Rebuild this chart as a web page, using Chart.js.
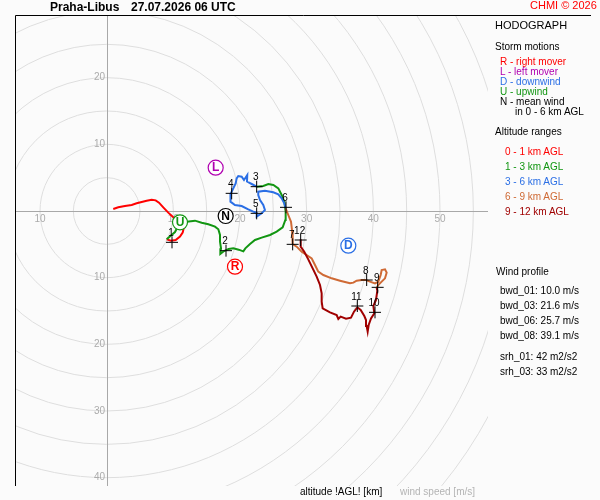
<!DOCTYPE html>
<html lang="en">
<head>
  <meta charset="UTF-8">
  <title>Hodograph Praha-Libus</title>
  <script src="https://cdn.jsdelivr.net/npm/chart.js"></script>
  <style>
    body { margin: 0; background: #fbfbfb; }
    .wrap { position: relative; width: 600px; height: 500px; font-family: "Liberation Sans", Arial, sans-serif; }
    canvas { position: absolute; left: 0; top: 0; }
    .t { position: absolute; white-space: nowrap; font-size: 10px; line-height: 12px; color: #000; }
  </style>
</head>
<body>
  <div class="wrap">
    <canvas id="hodo" width="600" height="500"></canvas>

    <!-- header -->
    <div class="t" style="left:50px; top:0px; font-size:12px; line-height:14px; font-weight:bold;">Praha-Libus</div>
    <div class="t" style="left:131px; top:0px; font-size:12px; line-height:14px; font-weight:bold;">27.07.2026 06 UTC</div>
    <div class="t" style="left:530px; top:-1px; font-size:11px; line-height:13px; color:#ff0000;">CHMI © 2026</div>

    <!-- right panel -->
    <div class="t" style="left:495px; top:19px; font-size:11px; line-height:13px;">HODOGRAPH</div>
    <div class="t" style="left:495px; top:41px;">Storm motions</div>
    <div class="t" style="left:500px; top:56px; color:#ff0000;">R - right mover</div>
    <div class="t" style="left:500px; top:66px; color:#b000b0;">L - left mover</div>
    <div class="t" style="left:500px; top:76px; color:#2b6fe5;">D - downwind</div>
    <div class="t" style="left:500px; top:86px; color:#129612;">U - upwind</div>
    <div class="t" style="left:500px; top:96px;">N - mean wind</div>
    <div class="t" style="left:515px; top:106px;">in 0 - 6 km AGL</div>

    <div class="t" style="left:495px; top:126px;">Altitude ranges</div>
    <div class="t" style="left:505px; top:146px; color:#ff0000;">0 - 1 km AGL</div>
    <div class="t" style="left:505px; top:161px; color:#129612;">1 - 3 km AGL</div>
    <div class="t" style="left:505px; top:176px; color:#2b6fe5;">3 - 6 km AGL</div>
    <div class="t" style="left:505px; top:191px; color:#cf6a35;">6 - 9 km AGL</div>
    <div class="t" style="left:505px; top:206px; color:#a00000;">9 - 12 km AGL</div>

    <div class="t" style="left:496px; top:266px;">Wind profile</div>
    <div class="t" style="left:500px; top:285px;">bwd_01: 10.0 m/s</div>
    <div class="t" style="left:500px; top:300px;">bwd_03: 21.6 m/s</div>
    <div class="t" style="left:500px; top:315px;">bwd_06: 25.7 m/s</div>
    <div class="t" style="left:500px; top:330px;">bwd_08: 39.1 m/s</div>
    <div class="t" style="left:500px; top:351px;">srh_01: 42 m2/s2</div>
    <div class="t" style="left:500px; top:366px;">srh_03: 33 m2/s2</div>

    <!-- bottom captions -->
    <div class="t" style="left:300px; top:486px;">altitude !AGL! [km]</div>
    <div class="t" style="left:400px; top:486px; color:#b4b4b4;">wind speed [m/s]</div>
  </div>

  <script>
    // wind speed rings and axis tick values [m/s]
    const ringSpeeds = [5, 10, 15, 20, 25, 30, 35, 40, 45, 50, 55, 60, 65];
    const xTicks = [-10, 10, 20, 30, 40, 50];
    const yTicks = [20, 10, -10, -20, -30, -40];

    // hodograph traces [u, v] in m/s, one array per altitude range
    const trace0to1 = [[0.99,0.30],[1.74,0.55],[2.74,0.75],[3.75,0.90],[4.50,1.15],[5.25,1.35],[6.00,1.55],[6.75,1.70],[7.35,1.60],[7.85,1.25],[8.49,0.55],[9.24,-0.25],[9.99,-0.95],[11.0,-1.70],[11.55,-2.60],[11.40,-3.25],[11.0,-3.85],[10.35,-4.35],[9.65,-4.45],[9.0,-4.25]];
    const trace1to3 = [[9.0,-4.25],[10.25,-3.15],[11.0,-1.70],[12.0,-1.60],[13.25,-1.45],[14.25,-1.75],[15.25,-2.0],[16.25,-2.35],[16.75,-2.75],[17.0,-3.60],[17.0,-4.60],[17.15,-5.60],[17.05,-6.45],[17.6,-6.0],[18.3,-5.70],[19.0,-5.60],[19.8,-5.80],[20.5,-6.05],[20.8,-5.60],[21.5,-4.95],[22.25,-4.35],[23.25,-4.0],[24.5,-3.60],[25.5,-3.10],[26.4,-2.45],[26.8,-1.35],[26.85,-0.10],[26.65,1.40],[26.25,2.40],[25.75,3.40],[25.0,3.90],[24.25,4.05],[23.5,3.75],[22.5,3.65]];
    const trace3to6 = [[22.5,3.65],[21.75,4.05],[21.05,4.42],[21.09,5.40],[20.6,4.65],[20.25,5.15],[19.74,5.25],[19.5,4.90],[19.35,4.15],[18.99,3.40],[18.64,2.65],[18.5,1.90],[18.64,1.40],[19.24,0.90],[20.25,0.75],[21.24,0.25],[21.99,-0.10],[22.5,-0.25],[22.5,-0.85],[23.25,-0.35],[23.74,0.15],[23.49,0.90],[23.0,1.65],[22.74,2.40],[22.74,2.90],[23.74,3.05],[24.99,2.80],[25.74,2.50],[26.25,1.90],[26.64,1.15],[26.85,0.40]];
    const trace6to9 = [[26.85,0.40],[27.24,-0.60],[27.65,-1.60],[27.8,-2.85],[27.9,-3.90],[27.9,-4.95],[28.5,-5.35],[29.25,-6.10],[30.0,-6.60],[30.75,-7.10],[31.25,-8.10],[31.74,-9.10],[32.5,-9.60],[33.75,-10.10],[35.0,-10.45],[36.5,-10.85],[37.0,-10.75],[37.5,-10.45],[38.25,-10.35],[38.9,-10.35],[39.5,-10.60],[40.25,-10.85],[40.74,-10.60],[41.1,-9.60],[41.25,-8.85],[41.75,-8.75],[42.0,-9.25],[41.75,-10.10],[41.25,-10.60],[40.74,-11.10],[40.5,-11.50]];
    const trace9to12 = [[40.5,-11.50],[40.6,-11.95],[40.4,-13.35],[40.0,-14.25],[40.15,-15.35],[39.65,-16.10],[39.3,-17.10],[39.15,-18.10],[39.0,-17.25],[38.9,-16.35],[38.65,-15.75],[38.1,-14.85],[37.6,-14.45],[37.1,-15.10],[36.65,-16.0],[35.9,-16.15],[35.1,-15.85],[34.75,-16.20],[34.5,-15.60],[33.5,-15.20],[32.4,-14.60],[32.25,-13.60],[32.25,-12.35],[32.0,-11.10],[31.5,-9.85],[30.9,-8.60],[30.24,-7.25],[29.64,-6.10],[29.1,-5.35],[29.1,-4.25]];

    // altitude marks every km
    const heightLabels = ['1','2','3','4','5','6','7','8','9','10','11','12'];
    const heightU = [9.8, 17.9, 22.5, 18.75, 22.5, 26.9, 27.9, 39.0, 40.65, 40.25, 37.6, 29.1];
    const heightV = [-4.7, -5.95, 3.65, 2.65, -0.35, 0.55, -5.0, -10.35, -11.45, -15.2, -14.25, -4.35];

    // storm motions
    const stormLabels = ['R', 'L', 'D', 'U', 'N'];
    const stormU = [19.25, 16.35, 36.25, 11.0, 17.85];
    const stormV = [-8.35, 6.5, -5.2, -1.7, -0.75];

    const layerColors = ['#ff0000', '#129612', '#2b6fe5', '#cf6a35', '#a00000'];
    const stormColors = ['#ff0000', '#b000b0', '#2b6fe5', '#129612', '#000000'];

    function toPoints(pairs) {
      return pairs.map(p => ({ x: p[0], y: p[1] }));
    }

    // rings, axes and tick labels under the traces
    const gridPlugin = {
      id: 'hodoGrid',
      beforeDatasetsDraw(chart) {
        const ctx = chart.ctx;
        const area = chart.chartArea;
        const xs = chart.scales.x, ys = chart.scales.y;
        const cx = xs.getPixelForValue(0), cy = ys.getPixelForValue(0);
        ctx.save();
        ctx.beginPath();
        ctx.rect(area.left, area.top, area.right - area.left, area.bottom - area.top);
        ctx.clip();
        ctx.strokeStyle = '#dedede';
        ctx.lineWidth = 1;
        ringSpeeds.forEach(r => {
          const rp = xs.getPixelForValue(r) - cx;
          ctx.beginPath();
          ctx.arc(cx, cy, rp, 0, Math.PI * 2);
          ctx.stroke();
        });
        ctx.strokeStyle = '#a8a8a8';
        ctx.beginPath();
        ctx.moveTo(area.left, Math.round(cy) + 0.5);
        ctx.lineTo(area.right, Math.round(cy) + 0.5);
        ctx.moveTo(Math.round(cx) + 0.5, area.top);
        ctx.lineTo(Math.round(cx) + 0.5, area.bottom);
        ctx.stroke();

        ctx.fillStyle = '#ababab';
        ctx.font = '10px "Liberation Sans", Arial, sans-serif';
        ctx.textAlign = 'center';
        ctx.textBaseline = 'middle';
        xTicks.forEach(t => {
          ctx.fillText(String(Math.abs(t)), xs.getPixelForValue(t), cy + 8.5);
        });
        ctx.textAlign = 'right';
        yTicks.forEach(t => {
          ctx.fillText(String(Math.abs(t)), cx - 1.5, ys.getPixelForValue(t));
        });
        ctx.restore();
      },
      afterDatasetsDraw(chart) {
        const ctx = chart.ctx;
        const xs = chart.scales.x, ys = chart.scales.y;
        ctx.save();
        ctx.textAlign = 'center';
        ctx.textBaseline = 'middle';
        ctx.fillStyle = '#000';
        ctx.font = '10px "Liberation Sans", Arial, sans-serif';
        heightLabels.forEach((lab, i) => {
          ctx.fillText(lab, xs.getPixelForValue(heightU[i]) - 1, ys.getPixelForValue(heightV[i]) - 9);
        });
        ctx.font = 'bold 12px "Liberation Sans", Arial, sans-serif';
        stormLabels.forEach((lab, i) => {
          ctx.fillStyle = stormColors[i];
          ctx.fillText(lab, xs.getPixelForValue(stormU[i]), ys.getPixelForValue(stormV[i]) + 0.5);
        });
        ctx.restore();
      },
      afterDraw(chart) {
        const ctx = chart.ctx;
        const area = chart.chartArea;
        ctx.save();
        ctx.strokeStyle = '#000';
        ctx.lineWidth = 1;
        ctx.beginPath();
        ctx.moveTo(area.left + 0.5, area.bottom);
        ctx.lineTo(area.left + 0.5, area.top + 0.5);
        ctx.lineTo(591, area.top + 0.5);
        ctx.stroke();
        ctx.restore();
      }
    };

    const traces = [trace0to1, trace1to3, trace3to6, trace6to9, trace9to12];
    const traceSets = traces.map((tr, i) => ({
      label: 'layer ' + i,
      data: toPoints(tr),
      showLine: true,
      borderColor: layerColors[i],
      borderWidth: 2,
      pointRadius: 0,
      fill: false,
      tension: 0,
      order: 10 - i
    }));

    const markerSet = {
      label: 'km marks',
      data: heightU.map((u, i) => ({ x: u, y: heightV[i] })),
      pointStyle: 'cross',
      pointRadius: 6,
      borderColor: '#000',
      borderWidth: 1,
      showLine: false,
      order: 1
    };

    const stormSet = {
      label: 'storm motions',
      data: stormU.map((u, i) => ({ x: u, y: stormV[i] })),
      pointStyle: 'circle',
      pointRadius: 7.5,
      backgroundColor: '#ffffff',
      borderColor: stormColors,
      borderWidth: 1.2,
      showLine: false,
      order: 0
    };

    new Chart(document.getElementById('hodo').getContext('2d'), {
      type: 'scatter',
      data: { datasets: [stormSet, markerSet].concat(traceSets) },
      options: {
        responsive: false,
        animation: false,
        devicePixelRatio: 1,
        layout: { padding: { left: 15, top: 15, right: 112, bottom: 14 } },
        scales: {
          x: { type: 'linear', min: -13.75, max: 57.2, display: false },
          y: { type: 'linear', min: -41.25, max: 29.4, display: false }
        },
        plugins: {
          legend: { display: false },
          tooltip: { enabled: false }
        }
      },
      plugins: [gridPlugin]
    });
  </script>
</body>
</html>
